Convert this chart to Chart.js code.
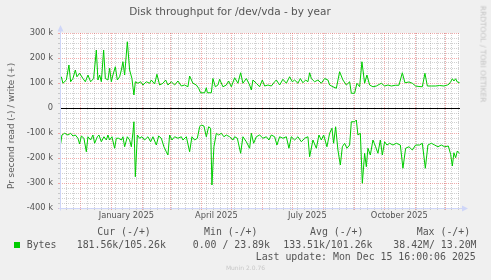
<!DOCTYPE html>
<html lang="en">
<head>
<meta charset="utf-8">
<title>Disk throughput for /dev/vda - by year</title>
<script src="https://cdn.jsdelivr.net/npm/chart.js@4.4.1/dist/chart.umd.min.js"></script>
<style>
  html, body { margin: 0; padding: 0; background: #f0f0f0; }
  #wrap { position: relative; width: 491px; height: 280px; overflow: hidden; }
  #gr { position: absolute; left: 0; top: 0; }
  .mono { position: absolute; white-space: pre; font: 9.9px/12px "DejaVu Sans Mono", monospace; color: #555; }
  .rot { position: absolute; white-space: pre; transform: translate(-50%, -50%) rotate(-90deg); font-family: "DejaVu Sans", sans-serif; }
  #ylab { left: 11px; top: 125.5px; font-size: 8.8px; color: #555; }
  #rrd { left: 482.5px; top: 54px; font-size: 7.5px; color: #c4c4c4; transform: translate(-50%, -50%) rotate(90deg); }
  #munin { position: absolute; left: 0; width: 491px; top: 264px; text-align: center; font: 6px/8px "DejaVu Sans", sans-serif; color: #c8c8c8; }
  #sq { position: absolute; left: 14px; top: 242px; width: 6px; height: 6px; background: #00cc00; }
</style>
</head>
<body>
<div id="wrap">
  <canvas id="gr" width="491" height="280"></canvas>
  <div id="ylab" class="rot">Pr second read (-) / write (+)</div>
  <div id="rrd" class="rot">RRDTOOL / TOBI OETIKER</div>

  <div class="mono" style="left:97.3px; top:226px;">Cur (-/+)</div>
  <div class="mono" style="left:204px; top:226px;">Min (-/+)</div>
  <div class="mono" style="left:310px; top:226px;">Avg (-/+)</div>
  <div class="mono" style="left:416.7px; top:226px;">Max (-/+)</div>

  <div id="sq"></div>
  <div class="mono" style="left:26.7px; top:239px;">Bytes</div>
  <div class="mono" style="left:76.7px; top:239px;">181.56k/105.26k</div>
  <div class="mono" style="left:192.7px; top:239px;">0.00 / 23.89k</div>
  <div class="mono" style="left:283.3px; top:239px;">133.51k/101.26k</div>
  <div class="mono" style="left:393.3px; top:239px;">38.42M/ 13.20M</div>

  <div class="mono" style="left:255.7px; top:251px;">Last update: Mon Dec 15 16:00:06 2025</div>
  <div id="munin">Munin 2.0.76</div>
</div>

<script>
// x = days since 2025-01-01, the graph shows the last 400 days
const startDay = -51.33, endDay = 348.67;

// write bytes per second (k), upper half
const writeDays = [-50,-48.4,-45,-42.4,-40.7,-38.4,-36,-34.4,-31.7,-28.4,-26,-23.4,-20.7,-17.7,-15,-13.4,-11.7,-10,-7.7,-6,
  -3.4,-1.7,0,1.6,4,6,8.3,10,11.6,13.3,16,18.3,20.6,22.6,24,26.6,29.3,31.6,35,38.3,
  40,43.3,45.6,48.3,51.6,54.3,56.6,60,63.3,66.6,70,73.3,76.6,78.3,81.6,85,87.3,89.3,91.6,93.3,
  95,96,100,101.6,104,106.6,108.3,111.6,115,117.3,120,123.3,126.6,129.3,131.6,135,138.3,140,141.6,145,
  148.3,151,153.3,156.6,160,163.3,165,168.3,171.6,175,178.3,181,183.3,186.6,189,191.6,194.3,196.6,198.3,200,
  203.3,206.6,210,213.3,216.6,218.3,221.6,225,228.3,231.6,235,238.3,240,243.3,245.6,248.3,250.6,253.3,255.6,258.3,
  261.6,265,270,273.3,276.6,280,284,287.6,291,293.6,297.6,301,304.3,307.6,311,313.6,316,320,324.3,328.3,
  332.6,336,337.6,339.3,341,342.6,344.3,346,348.3];
const writeK = [125,99,112,172,105,118,152,125,139,118,105,132,105,118,232,112,132,105,232,118,
  112,159,105,132,165,112,125,152,185,132,265,152,118,52,105,99,105,92,105,99,
  112,96,135,92,99,112,92,105,92,108,88,92,85,128,99,92,79,61,61,61,
  81,61,61,118,85,92,115,85,92,108,85,121,99,141,99,118,92,72,112,99,
  85,112,88,92,88,105,112,92,115,99,125,105,112,99,118,101,112,105,141,118,
  105,112,99,118,112,92,85,79,145,112,92,105,59,59,99,85,185,99,132,92,
  85,88,99,88,92,88,91,91,141,101,104,99,88,86,85,139,88,88,88,90,
  88,92,95,105,117,108,117,104,101];

// read bytes per second (k), drawn below zero
const readDays = [-50.7,-49.4,-46.7,-43.4,-40.7,-38.4,-36,-33.4,-31.7,-30,-27.4,-25,-23.4,-20.7,-18.4,-16.7,-14,-12.4,-10,-7.4,
  -5,-3.4,-1.7,0.6,3.3,5,7.3,10,11.6,13.3,16,18.3,20,21.6,22.6,24,26,28.3,30.6,33.3,
  36.6,39.3,41.6,45,47.3,50,52.6,55,56.6,58.3,60.6,63.3,66.6,70,71.6,75,78.3,80.6,83.3,86,
  88.3,90,92.6,95,97.3,99.3,100.6,102.6,105,107.3,110,112.6,115,118.3,121.6,123.3,126,129.3,131.6,135,
  138.3,140,142.3,145,148.3,151.6,155,157.6,160,163.3,165.6,168.3,171.6,175,177.6,180,183.3,186.6,190,193.3,
  196.6,198.3,201.6,205,207.6,210,212.3,215.6,218.3,220.6,222.3,224.3,226.6,229,231,233.3,235.6,238.3,240,243.3,
  245,246.6,249,251,253.3,255,256.6,259,261.6,264.3,266.6,269,271,273.3,275.6,278.3,281.6,285,289,291.6,
  294.3,297.6,301,304.3,308.3,311,314,316.6,320,323.3,326.6,330,333.3,337,339.3,341,342.6,344.3,346,347.6,
  348.3];
const readK = [144,108,101,108,101,112,108,121,144,112,121,175,115,128,108,141,115,108,135,115,
  128,108,128,115,161,121,121,128,115,155,115,128,155,99,55,275,108,121,115,128,
  115,135,115,148,112,121,155,175,188,108,128,115,121,115,128,115,175,115,128,121,
  75,68,72,115,75,81,308,155,101,108,101,115,108,115,128,115,121,181,115,135,
  161,101,141,115,108,121,115,128,108,115,148,115,121,115,161,115,128,115,135,121,
  115,195,128,161,108,128,108,155,101,81,141,75,168,228,155,141,161,148,55,55,
  48,108,101,301,181,235,161,188,128,155,181,128,188,135,148,141,148,141,148,241,
  161,155,168,148,148,141,241,148,141,148,155,148,155,152,185,232,179,199,172,179,
  182];

// x grid: month starts (major), sundays (minor), labels at mid month
const monthStarts = [-31, 0, 31, 59, 90, 120, 151, 181, 212, 243, 273, 304, 334];
const monthLabelDays = [15, 105, 196, 288];
const monthLabels = ['January 2025', 'April 2025', 'July 2025', 'October 2025'];
const firstSunday = -45;

// y axis
const yMin = -400000, yMax = 300000, yMinorStep = 20000;
const yLabelValues = [300000, 200000, 100000, 0, -100000, -200000, -300000, -400000];
const yLabels = ['300 k', '200 k', '100 k', '0', '-100 k', '-200 k', '-300 k', '-400 k'];

const GREEN = '#00cc00';
const MAJOR = 'rgba(225,60,60,0.42)';
const MINOR = 'rgba(140,140,140,0.4)';
const AXIS = '#cfd6f8';

const xKind = new Map();
for (let d = firstSunday; d <= endDay; d += 7) xKind.set(d, 'minor');
monthStarts.forEach(d => xKind.set(d, 'major'));
monthLabelDays.forEach(d => xKind.set(d, 'label'));

const yTicks = [];
for (let v = yMin; v <= yMax; v += yMinorStep) yTicks.push(v);

const rrdDecor = {
  id: 'rrdDecor',
  beforeDraw(chart) {
    const {ctx, chartArea: a} = chart;
    ctx.save();
    ctx.fillStyle = '#ffffff';
    ctx.fillRect(a.left, a.top, a.right - a.left, a.bottom - a.top);
    ctx.restore();
  },
  beforeDatasetsDraw(chart) {
    const {ctx, chartArea: a, scales: {y}} = chart;
    const y0 = Math.round(y.getPixelForValue(0)) + 0.5;
    ctx.save();
    ctx.strokeStyle = '#000000';
    ctx.lineWidth = 1;
    ctx.beginPath();
    ctx.moveTo(a.left, y0);
    ctx.lineTo(a.right, y0);
    ctx.stroke();
    ctx.restore();
  },
  afterDraw(chart) {
    const {ctx, chartArea: a} = chart;
    const l = Math.round(a.left) + 0.5, b = Math.round(a.bottom) + 0.5;
    ctx.save();
    ctx.strokeStyle = AXIS;
    ctx.fillStyle = AXIS;
    ctx.lineWidth = 1;
    ctx.beginPath();
    ctx.moveTo(l, b + 2); ctx.lineTo(l, a.top - 2);
    ctx.moveTo(l - 2, b); ctx.lineTo(a.right + 3, b);
    ctx.stroke();
    // arrows
    ctx.beginPath();
    ctx.moveTo(l, a.top - 8); ctx.lineTo(l - 3, a.top - 1.5); ctx.lineTo(l + 3, a.top - 1.5); ctx.closePath();
    ctx.fill();
    ctx.beginPath();
    ctx.moveTo(a.right + 8, b); ctx.lineTo(a.right + 2, b - 3); ctx.lineTo(a.right + 2, b + 3); ctx.closePath();
    ctx.fill();
    ctx.restore();
  }
};

new Chart(document.getElementById('gr').getContext('2d'), {
  type: 'line',
  data: {
    datasets: [
      { label: 'write', data: writeDays.map((d, i) => ({x: d, y: writeK[i] * 1000})) },
      { label: 'read', data: readDays.map((d, i) => ({x: d, y: -readK[i] * 1000})) }
    ]
  },
  options: {
    responsive: false,
    animation: false,
    devicePixelRatio: 1,
    layout: { padding: { left: 0, right: 31, top: 0, bottom: 0 } },
    elements: {
      line: { borderColor: GREEN, borderWidth: 1, tension: 0, fill: false },
      point: { radius: 0 }
    },
    plugins: {
      legend: { display: false },
      tooltip: { enabled: false },
      title: {
        display: true,
        text: 'Disk throughput for /dev/vda - by year',
        color: '#555',
        font: { family: 'DejaVu Sans', size: 10.5, weight: 'normal', lineHeight: 1.2 },
        padding: { top: 5.5, bottom: 14.9 }
      }
    },
    scales: {
      x: {
        type: 'linear',
        min: startDay,
        max: endDay,
        afterBuildTicks: s => { s.ticks = [...xKind.keys()].sort((p, q) => p - q).map(v => ({value: v})); },
        afterFit: s => { s.height = 72; },
        ticks: {
          autoSkip: false, maxRotation: 0, minRotation: 0, padding: 1,
          color: '#555',
          font: { family: 'DejaVu Sans', size: 8.3 },
          callback: v => { const i = monthLabelDays.indexOf(v); return i >= 0 ? monthLabels[i] : ''; }
        },
        grid: {
          drawTicks: true, tickLength: 2,
          color: c => { const k = xKind.get(c.tick && c.tick.value); return k === 'major' ? MAJOR : (k === 'minor' ? MINOR : 'rgba(0,0,0,0)'); }
        },
        border: { display: false, dash: [1, 1] }
      },
      y: {
        type: 'linear',
        min: yMin,
        max: yMax,
        afterBuildTicks: s => { s.ticks = yTicks.map(v => ({value: v})); },
        afterFit: s => { s.width = 60; },
        ticks: {
          autoSkip: false, padding: 5,
          color: '#555',
          font: { family: 'DejaVu Sans', size: 8.3 },
          callback: v => { const i = yLabelValues.indexOf(v); return i >= 0 ? yLabels[i] : ''; }
        },
        grid: {
          drawTicks: true, tickLength: 2,
          color: c => { const v = c.tick && c.tick.value; if (v === 0) return 'rgba(0,0,0,0)'; return v % 100000 === 0 ? MAJOR : MINOR; }
        },
        border: { display: false, dash: [1, 1] }
      }
    }
  },
  plugins: [rrdDecor]
});
</script>
</body>
</html>
